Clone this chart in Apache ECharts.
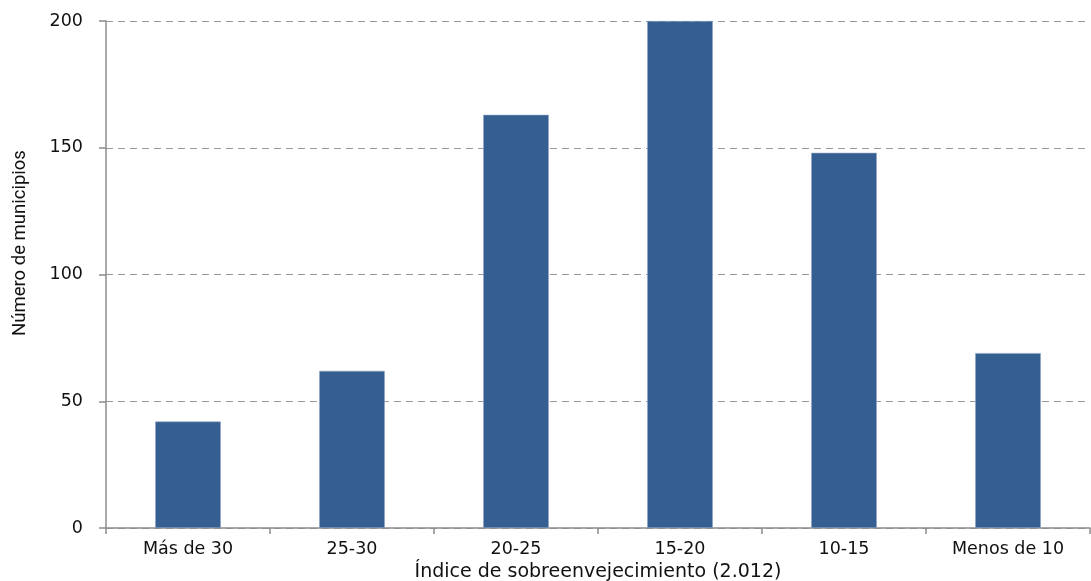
<!DOCTYPE html>
<html><head><meta charset="utf-8">
<script src="https://cdn.jsdelivr.net/npm/echarts@6/dist/echarts.min.js"></script>
<style>html,body{margin:0;padding:0;background:#fff}#c{width:1091px;height:581px}</style>
</head><body><div id="c"></div>
<script>
const categories = ['Más de 30','25-30','20-25','15-20','10-15','Menos de 10'];
const values = [42, 62, 163, 200, 148, 69];
const yTicks = [0, 50, 100, 150, 200];
const yTitle = 'Número de municipios';
const xTitle = 'Índice de sobreenvejecimiento (2.012)';

const chart = echarts.init(document.getElementById('c'), null, {renderer:'canvas'});
chart.setOption({
  animation:false,
  grid:{left:106,right:1,top:21,bottom:53,containLabel:false,outerBoundsMode:'none'},
  xAxis:{
    type:'category', data:categories,
    name:xTitle, nameLocation:'middle', nameGap:32,
    nameTextStyle:{fontFamily:'DejaVu Sans',fontSize:19,color:'#111'},
    axisLine:{lineStyle:{color:'#8c8c8c',width:1.5}},
    axisTick:{show:true,alignWithLabel:false,length:6,lineStyle:{color:'#8c8c8c',width:1.5}},
    axisLabel:{fontFamily:'DejaVu Sans',fontSize:17.5,color:'#111',margin:12},
    splitLine:{show:false}
  },
  yAxis:{
    type:'value', min:0, max:200, interval:50,
    axisLine:{show:true,lineStyle:{color:'#8c8c8c',width:1.5}},
    axisTick:{show:true,length:7,lineStyle:{color:'#8c8c8c',width:1.5}},
    axisLabel:{fontFamily:'DejaVu Sans',fontSize:17.5,color:'#111',margin:23,
      formatter:v=>yTicks.includes(v)?String(v):''},
    splitLine:{show:true,lineStyle:{color:'#999999',type:[7,5],width:1.2}}
  },
  graphic:[{
    type:'text', x:20, y:243, rotation:Math.PI/2,
    style:{text:yTitle, fontFamily:'Roboto', fontSize:18.5, fill:'#111',
      textAlign:'center', textVerticalAlign:'middle'}
  }],
  series:[{
    type:'bar', data:values, barWidth:'40%',
    itemStyle:{color:'#365f91',borderColor:'#8fa6c4',borderWidth:0.6}
  }]
});
</script></body></html>
